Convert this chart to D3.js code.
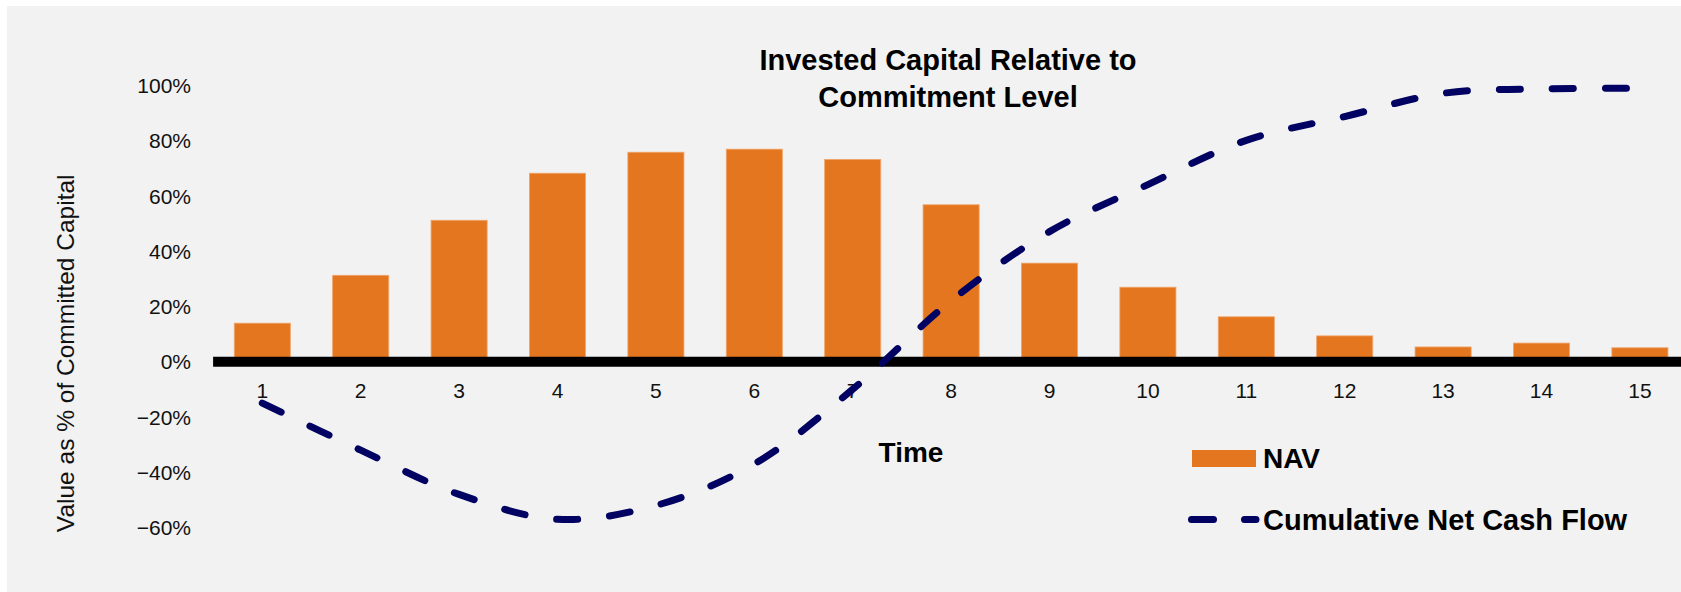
<!DOCTYPE html>
<html>
<head>
<meta charset="utf-8">
<script src="https://cdn.jsdelivr.net/npm/d3@7"></script>
<style>
  html, body { margin: 0; padding: 0; background: #ffffff; }
  svg { display: block; }
</style>
</head>
<body>
<svg id="chart" width="1681" height="592"></svg>
<script>
// ---- data ----
const categories = [1, 2, 3, 4, 5, 6, 7, 8, 9, 10, 11, 12, 13, 14, 15];
const navValues = [0.139, 0.312, 0.511, 0.681, 0.757, 0.768, 0.731, 0.567, 0.356, 0.269, 0.162, 0.093, 0.053, 0.067, 0.050];
const cashFlowValues = [-0.15, -0.32, -0.48, -0.57, -0.52, -0.37, -0.10, 0.22, 0.47, 0.64, 0.80, 0.886, 0.97, 0.986, 0.988];
const yTicks = [-0.6, -0.4, -0.2, 0, 0.2, 0.4, 0.6, 0.8, 1.0];
const titleLines = ["Invested Capital Relative to", "Commitment Level"];
const xTitle = "Time";
const yTitle = "Value as % of Committed Capital";
const legendLabels = ["NAV", "Cumulative Net Cash Flow"];

// ---- layout ----
const W = 1681, H = 592;
const svg = d3.select("#chart");
const font = "'Liberation Sans', Arial, sans-serif";
const orange = "#e47620";
const navy = "#010262";

svg.append("rect").attr("x", 7).attr("y", 6).attr("width", W - 7).attr("height", H - 6).attr("fill", "#f2f2f2");

const x = d3.scaleBand().domain(categories).range([213.1, 1689.1]).paddingInner(0.43).paddingOuter(0.215);
const y = d3.scaleLinear().domain([-0.6, 1.0]).range([527.6, 85.0]);

// bars
svg.append("g").selectAll("rect").data(navValues).join("rect")
  .attr("x", (d, i) => x(categories[i]))
  .attr("width", x.bandwidth())
  .attr("y", d => y(d))
  .attr("height", d => y(0) - y(d))
  .attr("fill", orange)
  .attr("stroke", "#f1a468")
  .attr("stroke-width", 0.8);

// zero axis line
svg.append("line")
  .attr("x1", x.range()[0]).attr("x2", x.range()[1])
  .attr("y1", y(0)).attr("y2", y(0))
  .attr("stroke", "#000").attr("stroke-width", 10);

// x axis labels
const xAxis = d3.axisBottom(x).tickSize(0).tickPadding(0);
const xg = svg.append("g").attr("transform", `translate(0,${y(0)})`).call(xAxis);
xg.select(".domain").remove();
xg.selectAll("text")
  .attr("y", 398.3 - y(0)).attr("dy", null)
  .style("font-family", font).style("font-size", "21px").attr("fill", "#111");

// y axis labels
const yAxis = d3.axisLeft(y).tickValues(yTicks).tickSize(0).tickPadding(0).tickFormat(d3.format(".0%"));
const yg = svg.append("g").attr("transform", "translate(191,0)").call(yAxis);
yg.select(".domain").remove();
yg.selectAll("text")
  .attr("dy", "0.35em")
  .style("font-family", font).style("font-size", "21px").attr("fill", "#111");

// line
const line = d3.line()
  .x((d, i) => x(categories[i]) + x.bandwidth() / 2)
  .y(d => y(d))
  .curve(d3.curveCatmullRom.alpha(0.5));
svg.append("path").datum(cashFlowValues)
  .attr("d", line)
  .attr("fill", "none")
  .attr("stroke", navy)
  .attr("stroke-width", 7)
  .attr("stroke-linecap", "round")
  .attr("stroke-dasharray", "21 32");

// title
svg.append("text")
  .attr("x", 948).attr("text-anchor", "middle")
  .style("font-family", font).style("font-size", "29px").style("font-weight", "bold").attr("fill", "#000")
  .selectAll("tspan").data(titleLines).join("tspan")
  .attr("x", 948).attr("y", (d, i) => 70 + i * 37.3).text(d => d);

// axis titles
svg.append("text")
  .attr("x", 911).attr("y", 461.7).attr("text-anchor", "middle")
  .style("font-family", font).style("font-size", "28px").style("font-weight", "bold").attr("fill", "#000")
  .text(xTitle);

svg.append("text")
  .attr("transform", "translate(74,353.3) rotate(-90)")
  .attr("text-anchor", "middle")
  .style("font-family", font).style("font-size", "24.5px").attr("fill", "#111")
  .text(yTitle);

// legend
svg.append("rect").attr("x", 1192).attr("y", 450).attr("width", 64).attr("height", 17).attr("fill", orange);
svg.append("text").attr("x", 1263).attr("y", 467.6)
  .style("font-family", font).style("font-size", "28px").style("font-weight", "bold").attr("fill", "#000")
  .text(legendLabels[0]);
svg.append("path").attr("d", "M1191.5,519.4H1256")
  .attr("stroke", navy).attr("stroke-width", 7).attr("stroke-linecap", "round").attr("stroke-dasharray", "22 31").attr("fill", "none");
svg.append("text").attr("x", 1263).attr("y", 529.6)
  .style("font-family", font).style("font-size", "29px").style("font-weight", "bold").attr("fill", "#000")
  .text(legendLabels[1]);
</script>
</body>
</html>
